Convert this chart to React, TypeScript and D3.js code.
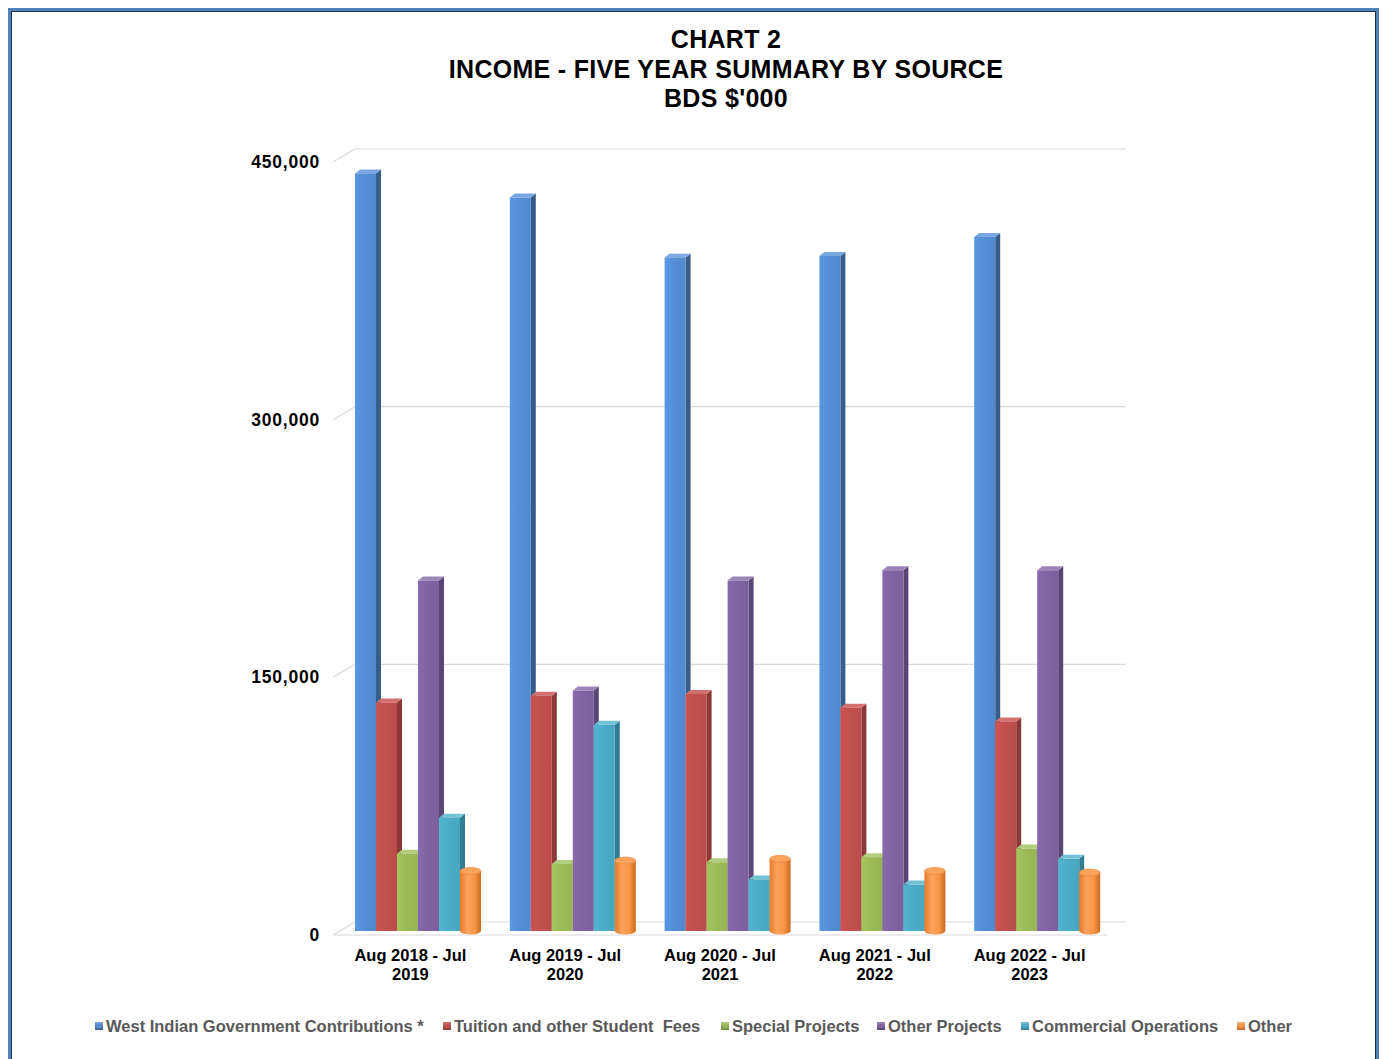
import React from "react";
import * as d3 from "d3";

const categories = [
  ["Aug 2018 - Jul", "2019"],
  ["Aug 2019 - Jul", "2020"],
  ["Aug 2020 - Jul", "2021"],
  ["Aug 2021 - Jul", "2022"],
  ["Aug 2022 - Jul", "2023"],
];
const seriesNames = [
  "West Indian Government Contributions *",
  "Tuition and other Student  Fees",
  "Special Projects",
  "Other Projects",
  "Commercial Operations",
  "Other",
];
const westIndianGov = [441000, 427000, 392000, 393000, 404000];
const tuitionFees = [133000, 137000, 138000, 130000, 122000];
const specialProjects = [45000, 39000, 40000, 43000, 48000];
const otherProjects = [204000, 140000, 204000, 210000, 210000];
const commercialOps = [66000, 120000, 30000, 27000, 42000];
const other = [35000, 41000, 42000, 35000, 34000];
const seriesValues = [westIndianGov, tuitionFees, specialProjects, otherProjects, commercialOps, other];
const yTicks = [0, 150000, 300000, 450000];

const colors = [
  { front: "#558ed5", side: "#385d8a", top: "#7aa7e0" },
  { front: "#c0504d", side: "#8c3836", top: "#d4716e" },
  { front: "#9bbb59", side: "#6f8a3d", top: "#b3cd7e" },
  { front: "#8064a2", side: "#5a4676", top: "#9c86b8" },
  { front: "#4bacc6", side: "#2f7e93", top: "#74c2d6" },
  { front: "#f79646", side: "#c56a20", top: "#f9b47a" },
];

const FONT = "'Liberation Sans', Arial, sans-serif";

export default function App() {
  const W = 1385, H = 1059;
  const frontLeft = 333, frontRight = 1107;
  const depthX = 22;
  const yFront = d3.scaleLinear().domain([0, 450000]).range([935, 162]);
  const yBack = d3.scaleLinear().domain([0, 450000]).range([922, 149]);
  const yBar = d3.scaleLinear().domain([0, 450000]).range([931, 158]);
  const xBand = d3.scaleBand<number>().domain(d3.range(categories.length)).range([frontLeft, frontRight]);
  const bw = 21, sd = 5, td = 4;

  const legendX = [95, 443, 721, 877, 1021, 1237];

  const bars: React.ReactNode[] = [];
  categories.forEach((_, ci) => {
    seriesValues.forEach((vals, si) => {
      const v = vals[ci];
      const x0 = (xBand(ci) as number) + 22 + si * bw;
      const top = yBar(v);
      const base = yBar(0);
      const c = colors[si];
      if (si === 5) {
        const rx = bw / 2, ry = 3.5;
        bars.push(
          <g key={`b${ci}-${si}`}>
            <path
              d={`M${x0},${top} L${x0},${base} A${rx},${ry} 0 0 0 ${x0 + bw},${base} L${x0 + bw},${top} Z`}
              fill="url(#cylGrad)"
            />
            <ellipse cx={x0 + rx} cy={top} rx={rx} ry={ry} fill="#f9a35c" stroke="#e8843a" strokeWidth={0.6} />
          </g>
        );
      } else {
        bars.push(
          <g key={`b${ci}-${si}`}>
            <polygon
              points={`${x0 + bw},${top} ${x0 + bw + sd},${top - td} ${x0 + bw + sd},${base - td} ${x0 + bw},${base}`}
              fill={c.side}
            />
            <polygon
              points={`${x0},${top} ${x0 + sd},${top - td} ${x0 + bw + sd},${top - td} ${x0 + bw},${top}`}
              fill={c.top}
            />
            <rect x={x0} y={top} width={bw} height={base - top} fill={`url(#fg${si})`} />
          </g>
        );
      }
    });
  });

  return (
    <div style={{ position: "absolute", left: 0, top: 0 }}>
      <svg width={W} height={H} style={{ display: "block", fontFamily: FONT }}>
        <defs>
          {colors.map((c, i) => (
            <linearGradient key={i} id={`fg${i}`} x1="0" x2="1" y1="0" y2="0">
              <stop offset="0" stopColor={d3.color(c.front)!.brighter(0.15).formatHex()} />
              <stop offset="0.5" stopColor={c.front} />
              <stop offset="1" stopColor={d3.color(c.front)!.darker(0.1).formatHex()} />
            </linearGradient>
          ))}
          <linearGradient id="cylGrad" x1="0" x2="1" y1="0" y2="0">
            <stop offset="0" stopColor="#e5792a" />
            <stop offset="0.35" stopColor="#fba35e" />
            <stop offset="0.7" stopColor="#f79646" />
            <stop offset="1" stopColor="#c96a1f" />
          </linearGradient>
          {colors.map((c, i) => (
            <linearGradient key={`l${i}`} id={`lg${i}`} x1="0" x2="0" y1="0" y2="1">
              <stop offset="0" stopColor={c.top} />
              <stop offset="1" stopColor={c.side} />
            </linearGradient>
          ))}
        </defs>
        <rect x={0} y={0} width={W} height={H} fill="#fff" />
        {/* frame */}
        <rect x={9.5} y={9.5} width={1368} height={H + 20} fill="none" stroke="#4f81bd" strokeWidth={3} />
        <rect x={11.5} y={11.5} width={1364} height={H + 20} fill="none" stroke="#1f2d3d" strokeWidth={1} />

        {/* title */}
        <g fontWeight="bold" fontSize={25} textAnchor="middle" fill="#000" letterSpacing={0.3}>
          <text x={726} y={48}>CHART 2</text>
          <text x={726} y={78}>INCOME - FIVE YEAR SUMMARY BY SOURCE</text>
          <text x={726} y={107}>BDS $'000</text>
        </g>

        {/* gridlines and floor */}
        <g stroke="#d9d9d9" strokeWidth={1.2} fill="none">
          {yTicks.map((t) => (
            <g key={t}>
              <line x1={frontLeft} y1={yFront(t)} x2={frontLeft + depthX} y2={yBack(t)} />
              <line x1={frontLeft + depthX} y1={yBack(t)} x2={frontRight + 19} y2={yBack(t)} />
            </g>
          ))}
          <line x1={frontLeft} y1={yFront(0)} x2={frontRight} y2={yFront(0)} />
        </g>

        {/* y labels */}
        <g fontWeight="bold" fontSize={17.5} textAnchor="end" fill="#000" letterSpacing={0.8}>
          {yTicks.map((t) => (
            <text key={t} x={320} y={yFront(t)} dy="0.35em">{d3.format(",")(t)}</text>
          ))}
        </g>

        {bars}

        {/* x labels */}
        <g fontWeight="bold" fontSize={16.5} textAnchor="middle" fill="#000">
          {categories.map((c, i) => {
            const cx = (xBand(i) as number) + xBand.bandwidth() / 2;
            return (
              <text key={i} x={cx} y={961}>
                <tspan x={cx}>{c[0]}</tspan>
                <tspan x={cx} dy={19}>{c[1]}</tspan>
              </text>
            );
          })}
        </g>

        {/* legend */}
        <g fontSize={16.5} fontWeight="bold" fill="#595959">
          {seriesNames.map((n, i) => (
            <g key={i}>
              <rect x={legendX[i]} y={1022} width={8} height={8} fill={`url(#lg${i})`} />
              <rect x={legendX[i] + 2} y={1024} width={4} height={4} fill={colors[i].front} />
              <text x={legendX[i] + 11} y={1032} style={{ whiteSpace: "pre" }}>{n}</text>
            </g>
          ))}
        </g>
      </svg>
    </div>
  );
}
